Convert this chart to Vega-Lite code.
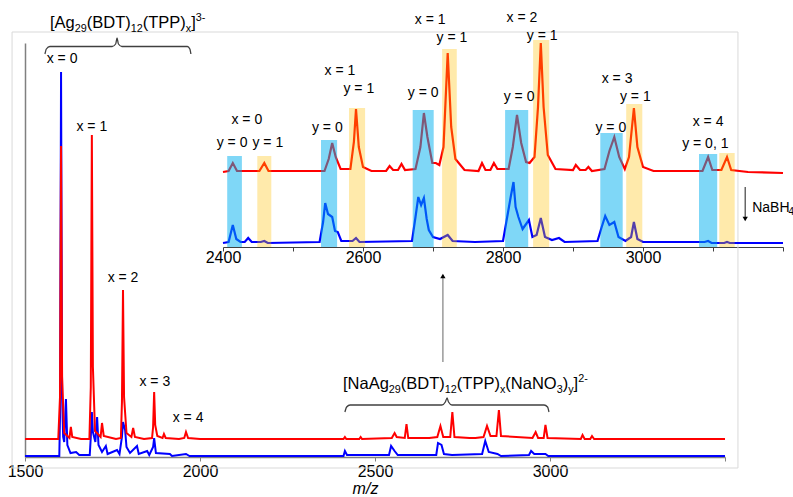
{
  "$schema": "https://vega.github.io/schema/vega-lite/v6.json",
  "width": 700,
  "height": 414,
  "autosize": {"type": "none"},
  "padding": {"left": 25, "top": 43, "right": 68, "bottom": 40},
  "background": "white",
  "config": {"view": {"stroke": null}, "text": {"font": "Liberation Sans", "color": "#000000"}},
  "datasets": {
    "frame": [{"m": 1463, "m2": 3537, "I": 425, "I2": -11}],
    "mainBlue": [
      {"m": 1500, "I": 1}, {"m": 1598, "I": 1}, {"m": 1600, "I": 40}, {"m": 1603, "I": 385}, {"m": 1606, "I": 60}, {"m": 1609, "I": 20}, {"m": 1612, "I": 15}, {"m": 1617, "I": 58}, {"m": 1621, "I": 12}, {"m": 1630, "I": 4}, {"m": 1646, "I": 5}, {"m": 1655, "I": 2},
      {"m": 1685, "I": 2}, {"m": 1688, "I": 20}, {"m": 1691, "I": 45}, {"m": 1694, "I": 25}, {"m": 1701, "I": 15}, {"m": 1706, "I": 40}, {"m": 1710, "I": 12}, {"m": 1720, "I": 5}, {"m": 1731, "I": 11}, {"m": 1736, "I": 3},
      {"m": 1763, "I": 7}, {"m": 1770, "I": 3}, {"m": 1777, "I": 20}, {"m": 1780, "I": 35}, {"m": 1786, "I": 27}, {"m": 1790, "I": 10}, {"m": 1800, "I": 4}, {"m": 1820, "I": 11}, {"m": 1825, "I": 3},
      {"m": 1849, "I": 6}, {"m": 1855, "I": 2}, {"m": 1866, "I": 10}, {"m": 1869, "I": 19}, {"m": 1874, "I": 4}, {"m": 1914, "I": 3}, {"m": 1920, "I": 1}, {"m": 1960, "I": 3}, {"m": 1970, "I": 1},
      {"m": 2410, "I": 1}, {"m": 2414, "I": 6}, {"m": 2420, "I": 2}, {"m": 2436, "I": 2}, {"m": 2540, "I": 2}, {"m": 2546, "I": 11}, {"m": 2556, "I": 6}, {"m": 2565, "I": 2},
      {"m": 2675, "I": 2}, {"m": 2680, "I": 14}, {"m": 2690, "I": 12}, {"m": 2697, "I": 3}, {"m": 2720, "I": 2}, {"m": 2806, "I": 3}, {"m": 2815, "I": 16}, {"m": 2825, "I": 5}, {"m": 2850, "I": 3}, {"m": 2860, "I": 1},
      {"m": 2940, "I": 2}, {"m": 2946, "I": 6}, {"m": 2955, "I": 3}, {"m": 2987, "I": 3}, {"m": 2995, "I": 1}, {"m": 3500, "I": 1}
    ],
    "mainRed": [
      {"m": 1500, "I": 18}, {"m": 1595, "I": 18}, {"m": 1600, "I": 60}, {"m": 1603, "I": 311}, {"m": 1606, "I": 80}, {"m": 1612, "I": 24}, {"m": 1627, "I": 19}, {"m": 1631, "I": 30}, {"m": 1635, "I": 20}, {"m": 1660, "I": 18},
      {"m": 1684, "I": 18}, {"m": 1688, "I": 70}, {"m": 1691, "I": 322}, {"m": 1694, "I": 90}, {"m": 1700, "I": 26}, {"m": 1716, "I": 20}, {"m": 1720, "I": 34}, {"m": 1725, "I": 21}, {"m": 1760, "I": 18},
      {"m": 1774, "I": 19}, {"m": 1777, "I": 55}, {"m": 1780, "I": 167}, {"m": 1783, "I": 60}, {"m": 1790, "I": 24}, {"m": 1804, "I": 20}, {"m": 1809, "I": 29}, {"m": 1814, "I": 20}, {"m": 1840, "I": 18},
      {"m": 1863, "I": 19}, {"m": 1866, "I": 30}, {"m": 1869, "I": 65}, {"m": 1872, "I": 32}, {"m": 1878, "I": 21}, {"m": 1893, "I": 19}, {"m": 1897, "I": 23}, {"m": 1902, "I": 19}, {"m": 1940, "I": 18},
      {"m": 1955, "I": 19}, {"m": 1960, "I": 25}, {"m": 1966, "I": 19}, {"m": 2000, "I": 18},
      {"m": 2410, "I": 18}, {"m": 2414, "I": 20}, {"m": 2418, "I": 18}, {"m": 2455, "I": 18}, {"m": 2459, "I": 20}, {"m": 2463, "I": 18}, {"m": 2548, "I": 19}, {"m": 2556, "I": 24}, {"m": 2562, "I": 20},
      {"m": 2585, "I": 19}, {"m": 2590, "I": 33}, {"m": 2595, "I": 19}, {"m": 2640, "I": 19}, {"m": 2655, "I": 19}, {"m": 2678, "I": 20}, {"m": 2687, "I": 31}, {"m": 2695, "I": 20}, {"m": 2715, "I": 20}, {"m": 2721, "I": 45}, {"m": 2727, "I": 20},
      {"m": 2770, "I": 19}, {"m": 2787, "I": 19}, {"m": 2810, "I": 20}, {"m": 2820, "I": 31}, {"m": 2830, "I": 21}, {"m": 2847, "I": 21}, {"m": 2854, "I": 47}, {"m": 2860, "I": 21},
      {"m": 2950, "I": 19}, {"m": 2959, "I": 25}, {"m": 2966, "I": 19}, {"m": 2982, "I": 19}, {"m": 2987, "I": 32}, {"m": 2993, "I": 19}, {"m": 3088, "I": 18}, {"m": 3093, "I": 22}, {"m": 3099, "I": 18},
      {"m": 3115, "I": 18}, {"m": 3120, "I": 21}, {"m": 3126, "I": 18}, {"m": 3500, "I": 18}
    ],
    "mainLabels": [
      {"m": 1606, "I": 398, "t": "x = 0"}, {"m": 1691, "I": 330, "t": "x = 1"}, {"m": 1780, "I": 179, "t": "x = 2"}, {"m": 1871, "I": 75, "t": "x = 3"}, {"m": 1966, "I": 39, "t": "x = 4"}
    ],
    "braces": [
      {"b": "top", "m": 1557, "I": 403}, {"b": "top", "m": 1561, "I": 408}, {"b": "top", "m": 1571, "I": 410.5}, {"b": "top", "m": 1749, "I": 410.5}, {"b": "top", "m": 1759, "I": 413}, {"b": "top", "m": 1763, "I": 419}, {"b": "top", "m": 1767, "I": 413}, {"b": "top", "m": 1777, "I": 410.5}, {"b": "top", "m": 1964, "I": 410.5}, {"b": "top", "m": 1971, "I": 408}, {"b": "top", "m": 1974, "I": 403},
      {"b": "bot", "m": 2414, "I": 45}, {"b": "bot", "m": 2419, "I": 50}, {"b": "bot", "m": 2429, "I": 52}, {"b": "bot", "m": 2691, "I": 52}, {"b": "bot", "m": 2701, "I": 55}, {"b": "bot", "m": 2706, "I": 59}, {"b": "bot", "m": 2710, "I": 55}, {"b": "bot", "m": 2720, "I": 52}, {"b": "bot", "m": 2983, "I": 52}, {"b": "bot", "m": 2993, "I": 50}, {"b": "bot", "m": 2997, "I": 45}
    ],
    "formula": [
      {"m": 1571.4, "I": 429, "t": "[Ag", "k": "n"}, {"m": 1642.2, "I": 429, "t": "29", "k": "b"}, {"m": 1676.5, "I": 429, "t": "(BDT)", "k": "n"}, {"m": 1802.2, "I": 429, "t": "12", "k": "b"}, {"m": 1836.5, "I": 429, "t": "(TPP)", "k": "n"}, {"m": 1959.6, "I": 429, "t": "x", "k": "b"}, {"m": 1975.0, "I": 429, "t": "]", "k": "n"}, {"m": 1988.1, "I": 429, "t": "3-", "k": "p"},
      {"m": 2408.6, "I": 68, "t": "[NaAg", "k": "n"}, {"m": 2539.6, "I": 68, "t": "29", "k": "b"}, {"m": 2573.9, "I": 68, "t": "(BDT)", "k": "n"}, {"m": 2699.6, "I": 68, "t": "12", "k": "b"}, {"m": 2733.9, "I": 68, "t": "(TPP)", "k": "n"}, {"m": 2857.0, "I": 68, "t": "x", "k": "b"}, {"m": 2872.4, "I": 68, "t": "(NaNO", "k": "n"}, {"m": 3019.1, "I": 68, "t": "3", "k": "b"}, {"m": 3036.2, "I": 68, "t": ")", "k": "n"}, {"m": 3051.9, "I": 68, "t": "y", "k": "b"}, {"m": 3067.3, "I": 68, "t": "]", "k": "n"}, {"m": 3080.4, "I": 68, "t": "2-", "k": "p"}
    ],
    "mainArrow": [{"m": 2694, "I": 95, "I2": 182}],
    "mainArrowHead": [{"m": 2694, "I": 181}],
    "insetRed": [
      {"m": 2400, "v": 75}, {"m": 2408, "v": 76}, {"m": 2414, "v": 84}, {"m": 2420, "v": 76}, {"m": 2452, "v": 76}, {"m": 2459, "v": 84}, {"m": 2465, "v": 76}, {"m": 2545, "v": 76}, {"m": 2551, "v": 88}, {"m": 2556, "v": 104}, {"m": 2561, "v": 90}, {"m": 2568, "v": 78},
      {"m": 2582, "v": 78}, {"m": 2587, "v": 105}, {"m": 2590, "v": 138}, {"m": 2594, "v": 100}, {"m": 2600, "v": 80}, {"m": 2612, "v": 76}, {"m": 2633, "v": 76}, {"m": 2638, "v": 81}, {"m": 2643, "v": 77}, {"m": 2650, "v": 77}, {"m": 2655, "v": 83}, {"m": 2660, "v": 77},
      {"m": 2675, "v": 78}, {"m": 2682, "v": 100}, {"m": 2687, "v": 134}, {"m": 2692, "v": 110}, {"m": 2699, "v": 84}, {"m": 2704, "v": 84}, {"m": 2709, "v": 82}, {"m": 2715, "v": 100}, {"m": 2721, "v": 194}, {"m": 2726, "v": 120}, {"m": 2732, "v": 88}, {"m": 2745, "v": 77},
      {"m": 2765, "v": 76}, {"m": 2770, "v": 84}, {"m": 2775, "v": 77}, {"m": 2782, "v": 77}, {"m": 2787, "v": 84}, {"m": 2792, "v": 78}, {"m": 2808, "v": 78}, {"m": 2814, "v": 100}, {"m": 2820, "v": 132}, {"m": 2826, "v": 104}, {"m": 2833, "v": 85}, {"m": 2838, "v": 84},
      {"m": 2845, "v": 90}, {"m": 2850, "v": 140}, {"m": 2854, "v": 204}, {"m": 2858, "v": 140}, {"m": 2864, "v": 92}, {"m": 2875, "v": 78}, {"m": 2900, "v": 77}, {"m": 2904, "v": 82}, {"m": 2910, "v": 77}, {"m": 2918, "v": 77}, {"m": 2922, "v": 80}, {"m": 2927, "v": 76},
      {"m": 2945, "v": 78}, {"m": 2952, "v": 96}, {"m": 2959, "v": 110}, {"m": 2966, "v": 90}, {"m": 2974, "v": 78}, {"m": 2980, "v": 90}, {"m": 2987, "v": 139}, {"m": 2992, "v": 100}, {"m": 3000, "v": 80}, {"m": 3015, "v": 76},
      {"m": 3085, "v": 76}, {"m": 3093, "v": 90}, {"m": 3099, "v": 77}, {"m": 3112, "v": 77}, {"m": 3120, "v": 90}, {"m": 3126, "v": 77}, {"m": 3150, "v": 75}, {"m": 3200, "v": 74}
    ],
    "insetBlue": [
      {"m": 2400, "v": 4}, {"m": 2408, "v": 5}, {"m": 2414, "v": 22}, {"m": 2419, "v": 8}, {"m": 2425, "v": 5}, {"m": 2431, "v": 5}, {"m": 2436, "v": 9}, {"m": 2441, "v": 5}, {"m": 2454, "v": 5}, {"m": 2459, "v": 6}, {"m": 2464, "v": 4},
      {"m": 2538, "v": 5}, {"m": 2543, "v": 25}, {"m": 2546, "v": 44}, {"m": 2550, "v": 33}, {"m": 2556, "v": 30}, {"m": 2560, "v": 16}, {"m": 2564, "v": 15}, {"m": 2569, "v": 6}, {"m": 2585, "v": 6}, {"m": 2590, "v": 9}, {"m": 2595, "v": 5},
      {"m": 2670, "v": 6}, {"m": 2675, "v": 30}, {"m": 2679, "v": 50}, {"m": 2683, "v": 42}, {"m": 2687, "v": 49}, {"m": 2691, "v": 28}, {"m": 2694, "v": 17}, {"m": 2700, "v": 10}, {"m": 2710, "v": 8}, {"m": 2721, "v": 12}, {"m": 2728, "v": 6}, {"m": 2760, "v": 5},
      {"m": 2800, "v": 6}, {"m": 2806, "v": 30}, {"m": 2811, "v": 50}, {"m": 2815, "v": 65}, {"m": 2818, "v": 40}, {"m": 2822, "v": 30}, {"m": 2828, "v": 18}, {"m": 2837, "v": 27}, {"m": 2842, "v": 10}, {"m": 2848, "v": 12}, {"m": 2854, "v": 29}, {"m": 2860, "v": 10}, {"m": 2870, "v": 7}, {"m": 2880, "v": 9}, {"m": 2888, "v": 5},
      {"m": 2935, "v": 6}, {"m": 2941, "v": 20}, {"m": 2946, "v": 31}, {"m": 2952, "v": 22}, {"m": 2959, "v": 25}, {"m": 2965, "v": 10}, {"m": 2975, "v": 6}, {"m": 2983, "v": 10}, {"m": 2987, "v": 25}, {"m": 2992, "v": 8}, {"m": 3000, "v": 5},
      {"m": 3088, "v": 5}, {"m": 3093, "v": 6}, {"m": 3098, "v": 4}, {"m": 3116, "v": 4}, {"m": 3120, "v": 5}, {"m": 3124, "v": 4}, {"m": 3200, "v": 4}
    ],
    "bands": [
      {"k": "y0", "m": 2406, "m2": 2427, "v": 91, "v2": 0}, {"k": "y0", "m": 2540, "m2": 2563, "v": 107, "v2": 0}, {"k": "y0", "m": 2671, "m2": 2701, "v": 137, "v2": 0}, {"k": "y0", "m": 2803, "m2": 2836, "v": 137, "v2": 0}, {"k": "y0", "m": 2939, "m2": 2971, "v": 114, "v2": 0}, {"k": "y0", "m": 3080, "m2": 3106, "v": 93, "v2": 0},
      {"k": "y1", "m": 2449, "m2": 2469, "v": 91, "v2": 0}, {"k": "y1", "m": 2580, "m2": 2603, "v": 139, "v2": 0}, {"k": "y1", "m": 2713, "m2": 2734, "v": 198, "v2": 0}, {"k": "y1", "m": 2843, "m2": 2866, "v": 207, "v2": 0}, {"k": "y1", "m": 2976, "m2": 2999, "v": 143, "v2": 0}, {"k": "y1", "m": 3109, "m2": 3131, "v": 94, "v2": 0}
    ],
    "insetLabels": [
      {"m": 2434, "v": 127, "t": "x = 0"}, {"m": 2413, "v": 104, "t": "y = 0"}, {"m": 2464, "v": 104, "t": "y = 1"},
      {"m": 2567, "v": 176, "t": "x = 1"}, {"m": 2594, "v": 158, "t": "y = 1"}, {"m": 2549, "v": 119, "t": "y = 0"},
      {"m": 2686, "v": 154, "t": "y = 0"}, {"m": 2696, "v": 227, "t": "x = 1"}, {"m": 2727, "v": 209, "t": "y = 1"},
      {"m": 2827, "v": 229, "t": "x = 2"}, {"m": 2856, "v": 211, "t": "y = 1"}, {"m": 2823, "v": 150, "t": "y = 0"},
      {"m": 2963, "v": 168, "t": "x = 3"}, {"m": 2989, "v": 150, "t": "y = 1"}, {"m": 2954, "v": 119, "t": "y = 0"},
      {"m": 3093, "v": 125, "t": "x = 4"}, {"m": 3089, "v": 103, "t": "y = 0, 1"}
    ],
    "reagent": [{"m": 3156, "v": 35, "t": "NaBH", "k": "n"}, {"m": 3208, "v": 35, "t": "4", "k": "b"}],
    "insetArrow": [{"m": 3146, "v": 60, "v2": 29}],
    "insetArrowHead": [{"m": 3146, "v": 28}]
  },
  "layer": [
    {
      "encoding": {
        "x": {"field": "m", "type": "quantitative", "scale": {"domain": [1500, 3500], "nice": false, "zero": false},
          "axis": {"orient": "bottom", "values": [1500, 2000, 2500, 3000, 3500], "format": "d", "labelExpr": "datum.value < 3500 ? datum.label : ''",
            "title": "m/z", "titleFont": "Liberation Sans", "titleFontSize": 16, "titleFontStyle": "italic", "titleFontWeight": "normal", "titleColor": "#000000", "titleX": 340, "titleY": 23,
            "grid": false, "domainColor": "#808080", "domainWidth": 1.5, "tickColor": "#808080", "tickSize": 4, "labelFont": "Liberation Sans", "labelFontSize": 16, "labelColor": "#000000", "labelPadding": 2, "labelFlush": false, "labelOverlap": false}},
        "y": {"field": "I", "type": "quantitative", "scale": {"domain": [0, 414], "nice": false, "zero": false},
          "axis": {"orient": "left", "labels": false, "ticks": false, "grid": false, "title": null, "domainColor": "#808080", "domainWidth": 1.5}}
      },
      "layer": [
        {"data": {"name": "frame"}, "mark": {"type": "rect", "fill": null, "fillOpacity": 0, "stroke": "#d9d9d9", "strokeWidth": 1}, "encoding": {"x2": {"field": "m2"}, "y2": {"field": "I2"}}},
        {"data": {"name": "mainBlue"}, "mark": {"type": "line", "color": "#0000ff", "strokeWidth": 2}, "encoding": {}},
        {"data": {"name": "mainRed"}, "mark": {"type": "line", "color": "#ff0000", "strokeWidth": 2}, "encoding": {}},
        {"data": {"name": "mainLabels"}, "mark": {"type": "text", "font": "Liberation Sans", "fontSize": 14, "align": "center", "baseline": "middle"}, "encoding": {"text": {"field": "t"}}},
        {"data": {"name": "braces"}, "mark": {"type": "line", "color": "#404040", "strokeWidth": 1.3, "interpolate": "monotone"}, "encoding": {"detail": {"field": "b"}}},
        {"data": {"name": "formula"}, "transform": [{"filter": "datum.k == 'n'"}], "mark": {"type": "text", "font": "Liberation Sans", "fontSize": 16.5, "align": "left", "baseline": "alphabetic"}, "encoding": {"text": {"field": "t"}}},
        {"data": {"name": "formula"}, "transform": [{"filter": "datum.k == 'b'"}], "mark": {"type": "text", "font": "Liberation Sans", "fontSize": 10.8, "align": "left", "baseline": "alphabetic", "dy": 4}, "encoding": {"text": {"field": "t"}}},
        {"data": {"name": "formula"}, "transform": [{"filter": "datum.k == 'p'"}], "mark": {"type": "text", "font": "Liberation Sans", "fontSize": 10.8, "align": "left", "baseline": "alphabetic", "dy": -7}, "encoding": {"text": {"field": "t"}}},
        {"data": {"name": "mainArrow"}, "mark": {"type": "rule", "color": "#808080", "strokeWidth": 1.2}, "encoding": {"y2": {"field": "I2"}}},
        {"data": {"name": "mainArrowHead"}, "mark": {"type": "point", "shape": "triangle-up", "filled": true, "color": "#000000", "size": 28, "opacity": 1}, "encoding": {}}
      ]
    },
    {
      "encoding": {
        "x": {"field": "m", "type": "quantitative", "scale": {"domain": [2400, 3200], "range": [198, 758], "nice": false, "zero": false},
          "axis": {"orient": "bottom", "offset": -210, "values": [2400, 2500, 2600, 2700, 2800, 2900, 3000, 3100, 3200], "format": "d",
            "labelExpr": "(datum.value % 200 == 0 && datum.value < 3200) ? datum.label : ''", "title": null, "grid": false,
            "domainColor": "#404040", "domainWidth": 1, "tickColor": "#404040", "tickSize": 4, "labelFont": "Liberation Sans", "labelFontSize": 16, "labelColor": "#000000", "labelPadding": -2, "labelFlush": false, "labelOverlap": false}},
        "y": {"field": "v", "type": "quantitative", "scale": {"domain": [0, 215], "range": [204, -11], "nice": false, "zero": false}, "axis": null}
      },
      "layer": [
        {"data": {"name": "insetBlue"}, "mark": {"type": "line", "color": "#0000ff", "strokeWidth": 2.2}, "encoding": {}},
        {"data": {"name": "insetRed"}, "mark": {"type": "line", "color": "#ff0000", "strokeWidth": 2.2}, "encoding": {}},
        {"data": {"name": "bands"}, "transform": [{"filter": "datum.k == 'y0'"}], "mark": {"type": "rect", "color": "#00b0f0", "opacity": 0.5}, "encoding": {"x2": {"field": "m2"}, "y2": {"field": "v2"}}},
        {"data": {"name": "bands"}, "transform": [{"filter": "datum.k == 'y1'"}], "mark": {"type": "rect", "color": "#ffc000", "opacity": 0.33}, "encoding": {"x2": {"field": "m2"}, "y2": {"field": "v2"}}},
        {"data": {"name": "insetLabels"}, "mark": {"type": "text", "font": "Liberation Sans", "fontSize": 14, "align": "center", "baseline": "middle"}, "encoding": {"text": {"field": "t"}}},
        {"data": {"name": "insetArrow"}, "mark": {"type": "rule", "color": "#404040", "strokeWidth": 1.2}, "encoding": {"y2": {"field": "v2"}}},
        {"data": {"name": "insetArrowHead"}, "mark": {"type": "point", "shape": "triangle-down", "filled": true, "color": "#000000", "size": 28, "opacity": 1}, "encoding": {}},
        {"data": {"name": "reagent"}, "transform": [{"filter": "datum.k == 'n'"}], "mark": {"type": "text", "font": "Liberation Sans", "fontSize": 14, "align": "left", "baseline": "alphabetic"}, "encoding": {"text": {"field": "t"}}},
        {"data": {"name": "reagent"}, "transform": [{"filter": "datum.k == 'b'"}], "mark": {"type": "text", "font": "Liberation Sans", "fontSize": 10, "align": "left", "baseline": "alphabetic", "dy": 3}, "encoding": {"text": {"field": "t"}}}
      ]
    }
  ],
  "resolve": {"scale": {"x": "independent", "y": "independent"}, "axis": {"x": "independent", "y": "independent"}}
}
